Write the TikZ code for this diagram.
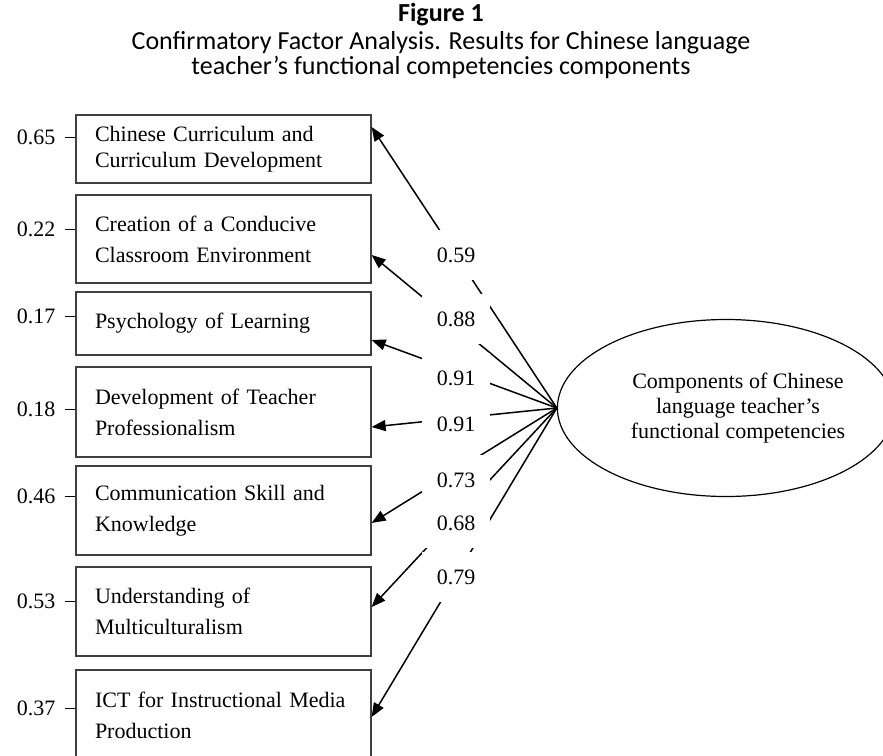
\documentclass[tikz,border=0pt]{standalone}
\usepackage{fontspec}
\setmainfont{Liberation Serif}
\newfontfamily\capfont{Carlito}
\usetikzlibrary{arrows.meta,shapes.geometric}

\begin{document}
\begin{tikzpicture}
[x=0.5pt,y=-0.5pt]
\tikzset{item/.style={draw=black!75,line width=0.6pt,text width=128.5pt,inner xsep=9.5pt,align=left,font=\fontsize{11}{15.5}\selectfont},
err/.style={inner sep=2pt,font=\fontsize{11}{13}\selectfont},
load/.style={fill=white,minimum width=34pt,minimum height=25pt,inner sep=0pt,font=\fontsize{11}{13}\selectfont},
arr/.style={-{Triangle[length=7pt,width=5.5pt]},line width=0.75pt}}
\clip (0,0) rectangle (883,755);

\node [font=\capfont\bfseries\fontsize{13}{13}\selectfont] (fig) at (441,15) {Figure 1};
\node [font=\capfont\fontsize{13}{12.5}\selectfont,align=center] (cap) at (441,55) {Confirmatory Factor Analysis. Results for Chinese language\\teacher’s functional competencies components};

\node [item,minimum height=34pt,font=\fontsize{11}{13}\selectfont] (b1) at (223.5,149) {Chinese Curriculum and\\Curriculum Development};
\node [item,minimum height=44pt] (b2) at (223.5,239) {Creation of a Conducive\\Classroom Environment};
\node [item,minimum height=31.5pt] (b3) at (223.5,323.5) {Psychology of Learning};
\node [item,minimum height=45pt] (b4) at (223.5,412) {Development of Teacher\\Professionalism};
\node [item,minimum height=44.5pt] (b5) at (223.5,510.5) {Communication Skill and\\Knowledge};
\node [item,minimum height=44.5pt] (b6) at (223.5,611.5) {Understanding of\\Multiculturalism};
\node [item,minimum height=45pt] (b7) at (223.5,715) {\makebox[\linewidth][s]{ICT for Instructional Media}\\Production};

\node [draw,ellipse,line width=0.6pt,minimum width=168pt,minimum height=88.5pt,inner sep=0pt,font=\fontsize{11}{12.5}\selectfont] (lat) at (726,408) {\hspace*{12pt}\begin{tabular}{@{}c@{}}Components of Chinese\\language teacher’s\\functional competencies\end{tabular}};

\node [err] (e1) at (36,137) {0.65};
\node [err] (e2) at (36,229) {0.22};
\node [err] (e3) at (36,316) {0.17};
\node [err] (e4) at (36,409) {0.18};
\node [err] (e5) at (36,496) {0.46};
\node [err] (e6) at (36,601) {0.53};
\node [err] (e7) at (36,708) {0.37};

\foreach \e/\b in {e1/b1,e2/b2,e3/b3,e4/b4,e5/b5,e6/b6,e7/b7}
	\draw [line width=0.5pt,shorten <=2.5pt] (\e.east) -- (\e.east -| \b.west);

\foreach \to/\dy in {b1/11,b2/-8,b3/-8.25,b4/-7.5,b5/-6.25,b6/2.25,b7/-1}
	\draw [arr] (lat.west) -- ([yshift=\dy pt]\to.east);

\node [load] (l1) at (456,255) {0.59};
\node [load] (l2) at (456,319) {0.88};
\node [load] (l3) at (456,378) {0.91};
\node [load] (l4) at (456,424) {0.91};
\node [load] (l5) at (456,480) {0.73};
\node [load] (l6) at (456,523) {0.68};
\node [load] (l7) at (456,577) {0.79};

\end{tikzpicture}
\end{document}
